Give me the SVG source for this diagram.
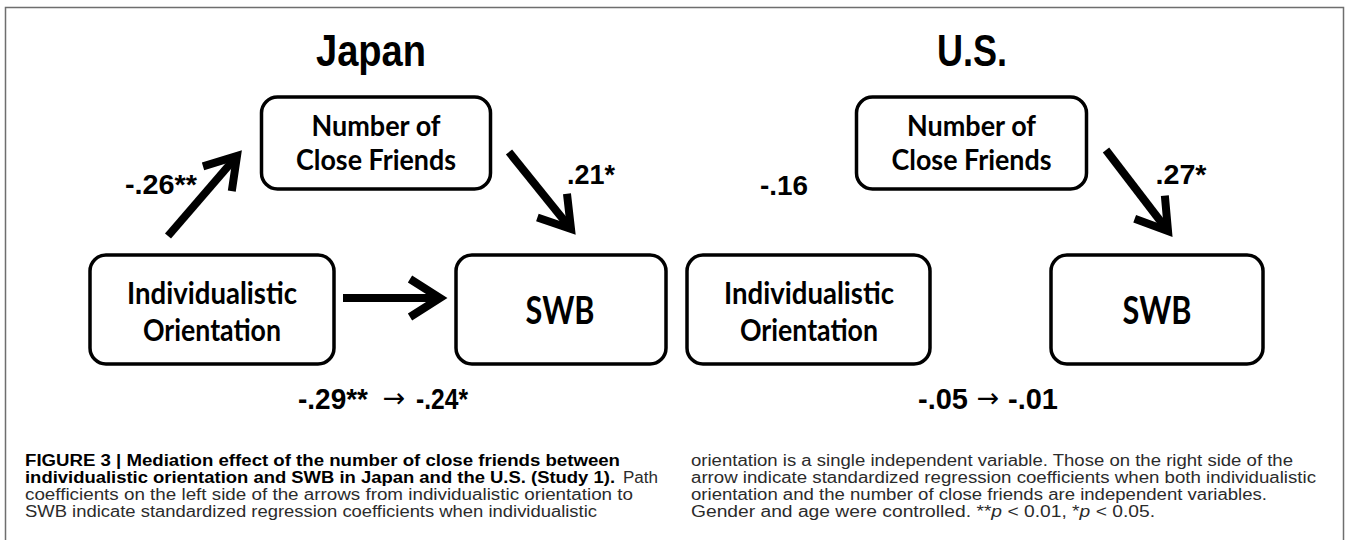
<svg xmlns="http://www.w3.org/2000/svg" width="1348" height="540" viewBox="0 0 1348 540">
<style>
.frame{fill:none;stroke:#6e6e6e;stroke-width:1.5}
.box{fill:#fff;stroke:#000;stroke-width:3.5}
.node{font-family:"Lato","Liberation Sans",sans-serif;font-weight:bold;fill:#000;text-anchor:middle}
.coef{font-family:"Liberation Sans",Arial,sans-serif;font-weight:bold;fill:#000;text-anchor:middle}
.sym{font-family:"DejaVu Sans",sans-serif;font-weight:normal;fill:#000;text-anchor:middle;font-size:27px}
.title{font-family:"Liberation Sans",Arial,sans-serif;font-weight:bold;fill:#000;text-anchor:middle;font-size:44px}
.arr{fill:none;stroke:#000;stroke-width:8}
.cap{font-family:"Liberation Sans",Arial,sans-serif;font-size:16px;fill:#2b2b2b}
.capb{font-weight:bold;fill:#000}
</style>
<defs>
<marker id="ah" markerUnits="userSpaceOnUse" markerWidth="80" markerHeight="80" viewBox="-40 -40 80 80" refX="0" refY="0" orient="auto" overflow="visible">
<path d="M-30,-19 L0,0 L-30,19" fill="none" stroke="#000" stroke-width="8" stroke-linejoin="miter"/>
</marker>
</defs>
<rect class="frame" x="5.5" y="7.5" width="1338" height="620"/>

<text class="title" x="371" y="66" textLength="110" lengthAdjust="spacingAndGlyphs">Japan</text>
<text class="title" x="972" y="66" textLength="70" lengthAdjust="spacingAndGlyphs">U.S.</text>

<g id="jp-friends">
<rect class="box" x="261.5" y="97" width="229" height="92" rx="16"/>
<text class="node" x="376" y="136" font-size="28" textLength="129" lengthAdjust="spacingAndGlyphs">Number of</text>
<text class="node" x="376" y="170" font-size="28" textLength="160" lengthAdjust="spacingAndGlyphs">Close Friends</text>
</g>
<g id="jp-indiv">
<rect class="box" x="90" y="255" width="244" height="109" rx="16"/>
<text class="node" x="212" y="304" font-size="30" textLength="170" lengthAdjust="spacingAndGlyphs">Individualistic</text>
<text class="node" x="212" y="341" font-size="30" textLength="138" lengthAdjust="spacingAndGlyphs">Orientation</text>
</g>
<g id="jp-swb">
<rect class="box" x="456" y="255" width="210" height="109" rx="16"/>
<text class="node" x="560" y="324" font-size="38" textLength="69" lengthAdjust="spacingAndGlyphs">SWB</text>
</g>

<g id="us-friends">
<rect class="box" x="856.5" y="97" width="230" height="92" rx="16"/>
<text class="node" x="971.5" y="136" font-size="28" textLength="129" lengthAdjust="spacingAndGlyphs">Number of</text>
<text class="node" x="971.5" y="170" font-size="28" textLength="160" lengthAdjust="spacingAndGlyphs">Close Friends</text>
</g>
<g id="us-indiv">
<rect class="box" x="687" y="255" width="243" height="109" rx="16"/>
<text class="node" x="809" y="304" font-size="30" textLength="170" lengthAdjust="spacingAndGlyphs">Individualistic</text>
<text class="node" x="809" y="341" font-size="30" textLength="138" lengthAdjust="spacingAndGlyphs">Orientation</text>
</g>
<g id="us-swb">
<rect class="box" x="1051" y="255" width="212" height="109" rx="16"/>
<text class="node" x="1157" y="324" font-size="38" textLength="69" lengthAdjust="spacingAndGlyphs">SWB</text>
</g>

<g id="connectors">
<line class="arr" x1="168" y1="236" x2="237" y2="156" marker-end="url(#ah)"/>
<line class="arr" x1="509" y1="152" x2="571" y2="229" marker-end="url(#ah)"/>
<line class="arr" x1="343" y1="298" x2="440" y2="298" marker-end="url(#ah)"/>
<line class="arr" x1="1106" y1="150" x2="1168" y2="231" marker-end="url(#ah)"/>
</g>

<g id="labels">
<text class="coef" x="161" y="194" font-size="28" textLength="72" lengthAdjust="spacingAndGlyphs">-.26**</text>
<text class="coef" x="591" y="184" font-size="28" textLength="48" lengthAdjust="spacingAndGlyphs">.21*</text>
<text class="coef" x="784" y="195" font-size="28" textLength="48" lengthAdjust="spacingAndGlyphs">-.16</text>
<text class="coef" x="1181" y="184" font-size="28" textLength="51" lengthAdjust="spacingAndGlyphs">.27*</text>
<text class="coef" x="333" y="409" font-size="30" textLength="70" lengthAdjust="spacingAndGlyphs">-.29**</text>
<text class="sym" x="394" y="407">→</text>
<text class="coef" x="442" y="409" font-size="30" textLength="52" lengthAdjust="spacingAndGlyphs">-.24*</text>
<text class="coef" x="943" y="409" font-size="30" textLength="50" lengthAdjust="spacingAndGlyphs">-.05</text>
<text class="sym" x="988" y="407">→</text>
<text class="coef" x="1033" y="409" font-size="30" textLength="50" lengthAdjust="spacingAndGlyphs">-.01</text>
</g>

<g id="caption">
<text class="cap capb" x="25" y="466" textLength="595" lengthAdjust="spacingAndGlyphs">FIGURE 3 | Mediation effect of the number of close friends between</text>
<text class="cap capb" x="25" y="483" textLength="590" lengthAdjust="spacingAndGlyphs">individualistic orientation and SWB in Japan and the U.S. (Study 1).</text>
<text class="cap" x="623" y="483" textLength="35" lengthAdjust="spacingAndGlyphs">Path</text>
<text class="cap" x="25" y="500" textLength="608" lengthAdjust="spacingAndGlyphs">coefficients on the left side of the arrows from individualistic orientation to</text>
<text class="cap" x="25" y="517" textLength="572" lengthAdjust="spacingAndGlyphs">SWB indicate standardized regression coefficients when individualistic</text>
<text class="cap" x="691" y="466" textLength="602" lengthAdjust="spacingAndGlyphs">orientation is a single independent variable. Those on the right side of the</text>
<text class="cap" x="691" y="483" textLength="625" lengthAdjust="spacingAndGlyphs">arrow indicate standardized regression coefficients when both individualistic</text>
<text class="cap" x="691" y="500" textLength="576" lengthAdjust="spacingAndGlyphs">orientation and the number of close friends are independent variables.</text>
<text class="cap" x="691" y="517" textLength="464" lengthAdjust="spacingAndGlyphs">Gender and age were controlled. **<tspan font-style="italic">p</tspan> &lt; 0.01, *<tspan font-style="italic">p</tspan> &lt; 0.05.</text>
</g>
</svg>
